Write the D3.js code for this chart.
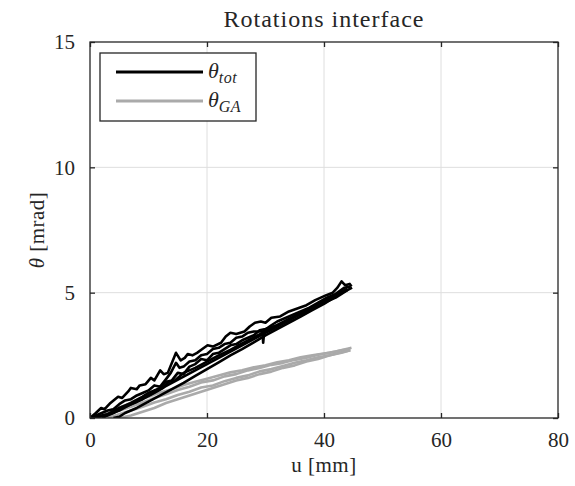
<!DOCTYPE html>
<html><head><meta charset="utf-8">
<script src="https://cdn.jsdelivr.net/npm/d3@7"></script>
<style>body{margin:0;background:#fff}svg{display:block}text{font-family:"Liberation Serif","Times New Roman",serif;fill:#262626}</style>
</head><body><svg id="c" width="575" height="486"></svg>
<script>
const title = "Rotations interface";
const xLabel = "u [mm]";
const xTicks = [0, 20, 40, 60, 80];
const yTicks = [0, 5, 10, 15];
const legendLabels = [{base: "θ", sub: "tot"}, {base: "θ", sub: "GA"}];
const seriesColors = ["#000000", "#aaaaaa"];

// θ_tot curves [u (mm), θ (mrad)]
const tot1 = [[0,0],[1,0.2],[1.9,0.4],[2.5,0.35],[3.5,0.6],[4.8,0.85],[5.5,0.8],[6.5,1.05],[7,1.2],[8,1.15],[8.5,1.3],[9.5,1.35],[10.4,1.6],[11,1.5],[12,1.9],[12.6,1.75],[13.3,1.8],[14.7,2.6],[15.5,2.3],[16.2,2.4],[16.7,2.55],[17.5,2.5],[18.3,2.6],[19.2,2.75],[20.1,2.9],[21,2.85],[22.4,3.0],[23.2,3.25],[24,3.4],[25,3.35],[26.4,3.45],[27.3,3.65],[28.2,3.8],[29.2,3.85],[30,3.8],[31,4.0],[32.5,4.05],[34,4.25],[35.8,4.4],[37,4.5],[38.5,4.7],[40.4,4.9],[41.5,5.0],[42.3,5.2],[43,5.45],[43.6,5.3],[44.4,5.35],[44.7,5.25]];
const tot2 = [[0,0],[1,0.1],[2,0.2],[3,0.3],[4,0.35],[5,0.55],[6,0.7],[7,0.75],[8,0.9],[9,1.0],[10,1.1],[11,1.3],[12,1.25],[13,1.55],[13.8,1.8],[14.7,2.2],[15.3,2.0],[16,2.05],[17,2.25],[18,2.3],[19,2.5],[20,2.55],[21,2.75],[22,2.8],[23,2.95],[24,3.0],[25,3.2],[26,3.25],[27,3.4],[28,3.45],[29.5,3.45],[29.6,3.0],[29.8,3.5],[31,3.7],[32,3.85],[33,3.95],[34.5,4.1],[36,4.25],[37.5,4.4],[39,4.6],[40.5,4.8],[42,4.95],[43.5,5.2],[44.5,5.25]];
const tot3 = [[2,0],[4,0.2],[6,0.45],[8,0.65],[10,0.9],[12,1.15],[14,1.4],[16,1.65],[18,1.9],[20,2.15],[22,2.4],[24,2.65],[26,2.9],[28,3.15],[30,3.4],[32,3.65],[34,3.9],[36,4.15],[38,4.4],[40,4.62],[42,4.88],[44,5.1],[44.8,5.2]];
const tot4 = [[4,0],[5,0.05],[6,0.2],[8,0.4],[10,0.65],[12,0.9],[14,1.15],[16,1.4],[18,1.68],[20,1.95],[22,2.22],[24,2.5],[26,2.75],[28,3.02],[30,3.3],[32,3.55],[34,3.8],[36,4.05],[38,4.3],[40,4.55],[42,4.85],[44,5.15]];
const tot5 = [[0,0],[2,0.1],[3,0.15],[5,0.4],[7,0.6],[9,0.85],[10,1.0],[11,1.1],[12,1.2],[13,1.45],[14,1.5],[15,1.8],[16,1.75],[17,2.05],[18,2.15],[19,2.35],[20,2.3],[21,2.55],[22,2.6],[23,2.75],[24,2.9],[25,2.95],[26,3.1],[27,3.2],[28,3.3],[29,3.5],[30,3.55],[32,3.7],[34,3.95],[36,4.15],[38,4.35],[40,4.6],[42,4.8],[44,5.1]];
const tot6 = [[1,0],[3,0.15],[5,0.3],[7,0.55],[9,0.75],[11,1.0],[12.5,1.2],[13.5,1.45],[14.5,1.5],[16,1.8],[18,2.0],[20,2.25],[22,2.5],[24,2.72],[26,2.98],[28,3.22],[30,3.45],[32,3.7],[34,3.92],[36,4.2],[38,4.42],[40,4.68],[42,4.9],[44,5.15]];

// θ_GA curves
const ga1 = [[0,0],[2,0.15],[4,0.35],[6,0.5],[8,0.72],[10,0.85],[12,1.02],[14,1.15],[16,1.32],[18,1.45],[20,1.57],[22,1.7],[24,1.82],[26,1.9],[28,2.02],[30,2.1],[32,2.22],[34,2.3],[36,2.42],[38,2.5],[40,2.57],[42,2.65],[44,2.76],[44.7,2.8]];
const ga2 = [[1,0],[3,0.1],[5,0.3],[7,0.45],[9,0.62],[11,0.8],[13,0.95],[15,1.12],[17,1.25],[19,1.42],[21,1.5],[23,1.66],[25,1.75],[27,1.9],[29,2.0],[31,2.12],[33,2.2],[35,2.32],[37,2.4],[39,2.52],[41,2.6],[43,2.7],[44.5,2.75]];
const ga3 = [[3,0],[5,0.15],[7,0.3],[9,0.45],[11,0.62],[13,0.75],[15,0.92],[17,1.05],[19,1.22],[21,1.3],[23,1.47],[25,1.6],[27,1.7],[29,1.86],[31,1.95],[33,2.07],[35,2.2],[37,2.3],[39,2.42],[41,2.5],[43,2.62],[44.5,2.7]];
const ga4 = [[5,0],[7,0.1],[9,0.25],[11,0.4],[13,0.6],[15,0.75],[17,0.9],[19,1.05],[21,1.2],[23,1.35],[25,1.5],[27,1.6],[29,1.75],[31,1.85],[33,2.0],[35,2.1],[37,2.25],[39,2.35],[41,2.5],[43,2.6],[44.5,2.7]];

const totSeries = [tot1, tot2, tot3, tot4, tot5, tot6];
const gaSeries = [ga1, ga2, ga3, ga4];

const svg = d3.select("#c");
const L = 90, R = 558, T = 42, B = 418;
const x = d3.scaleLinear().domain([0, 80]).range([L, R]);
const y = d3.scaleLinear().domain([0, 15]).range([B, T]);

// grid
svg.append("g").selectAll("line").data(xTicks.slice(1, -1)).join("line")
  .attr("x1", d => x(d)).attr("x2", d => x(d)).attr("y1", T).attr("y2", B)
  .attr("stroke", "#dedede").attr("stroke-width", 1);
svg.append("g").selectAll("line").data(yTicks.slice(1, -1)).join("line")
  .attr("x1", L).attr("x2", R).attr("y1", d => y(d)).attr("y2", d => y(d))
  .attr("stroke", "#dedede").attr("stroke-width", 1);

const line = d3.line().x(d => x(d[0])).y(d => y(d[1]));
svg.append("clipPath").attr("id", "pc").append("rect")
  .attr("x", L).attr("y", T).attr("width", R - L).attr("height", B - T);
const plot = svg.append("g").attr("clip-path", "url(#pc)");
plot.selectAll("path.ga").data(gaSeries).join("path").attr("class", "ga")
  .attr("d", line).attr("fill", "none").attr("stroke", seriesColors[1])
  .attr("stroke-width", 2.6).attr("stroke-linejoin", "round");
plot.selectAll("path.tot").data(totSeries).join("path").attr("class", "tot")
  .attr("d", line).attr("fill", "none").attr("stroke", seriesColors[0])
  .attr("stroke-width", 2.6).attr("stroke-linejoin", "round");

// axes
const fs = 21;
const xa = svg.append("g").attr("transform", `translate(0,${B})`)
  .call(d3.axisBottom(x).tickValues(xTicks).tickSize(-5).tickPadding(14).tickFormat(d3.format("d")));
const xt = svg.append("g").attr("transform", `translate(0,${T})`)
  .call(d3.axisTop(x).tickValues(xTicks).tickSize(-5).tickFormat(""));
const ya = svg.append("g").attr("transform", `translate(${L},0)`)
  .call(d3.axisLeft(y).tickValues(yTicks).tickSize(-5).tickPadding(15).tickFormat(d3.format("d")));
const yr = svg.append("g").attr("transform", `translate(${R},0)`)
  .call(d3.axisRight(y).tickValues(yTicks).tickSize(-5).tickFormat(""));
[xa, xt, ya, yr].forEach(g => {
  g.selectAll(".tick line").attr("stroke", "#262626").attr("stroke-width", 1.3);
  g.selectAll("text").style("font-family", '"Liberation Serif",serif').style("font-size", fs + "px").attr("fill", "#262626");
});
svg.selectAll(".domain").attr("d", null);
svg.append("rect").attr("x", L).attr("y", T).attr("width", R - L).attr("height", B - T)
  .attr("fill", "none").attr("stroke", "#262626").attr("stroke-width", 1.3);

// title & labels
svg.append("text").attr("x", (L + R) / 2).attr("y", 27).attr("text-anchor", "middle")
  .style("font-size", "24px").style("letter-spacing", "1px").text(title);
svg.append("text").attr("x", (L + R) / 2).attr("y", 472).attr("text-anchor", "middle")
  .style("font-size", fs + "px").style("letter-spacing", "0.5px").text(xLabel);
const yl = svg.append("text").attr("transform", `translate(44,${(T + B) / 2}) rotate(-90)`)
  .attr("text-anchor", "middle").style("font-size", fs + "px").style("letter-spacing", "0.5px");
yl.append("tspan").style("font-style", "italic").text("θ");
yl.append("tspan").text(" [mrad]");

// legend
const lg = svg.append("g");
lg.append("rect").attr("x", 100).attr("y", 53).attr("width", 156).attr("height", 68)
  .attr("fill", "#fff").attr("stroke", "#262626").attr("stroke-width", 1.3);
const rows = lg.selectAll("g.row").data(legendLabels).join("g").attr("class", "row")
  .attr("transform", (d, i) => `translate(0,${72 + i * 29})`);
rows.append("line").attr("x1", 116).attr("x2", 203).attr("y1", 0).attr("y2", 0)
  .attr("stroke", (d, i) => seriesColors[i]).attr("stroke-width", 3);
const lt = rows.append("text").attr("x", 208).attr("y", 6).style("font-size", "22px");
lt.append("tspan").style("font-style", "italic").text(d => d.base);
lt.append("tspan").attr("dy", 5).style("font-style", "italic").style("font-size", "16px").style("letter-spacing", "0.5px").text(d => d.sub);
</script></body></html>
